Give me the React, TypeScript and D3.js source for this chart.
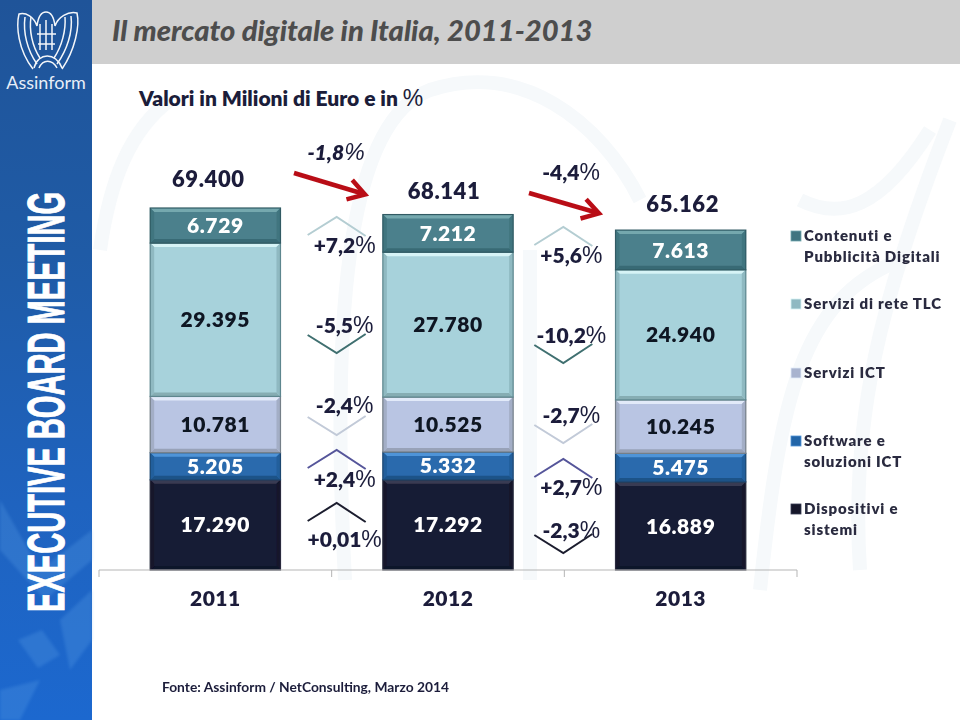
import React from "react";
import * as d3 from "d3";

const years = ["2011", "2012", "2013"];
const dispositivi = [17290, 17292, 16889];
const software = [5205, 5332, 5475];
const serviziICT = [10781, 10525, 10245];
const serviziTLC = [29395, 27780, 24940];
const contenuti = [6729, 7212, 7613];
const totals = [69400, 68141, 65162];
const totalChange = ["-1,8", "-4,4"];
const changes = [
  ["+0,01", "+2,4", "-2,4", "-5,5", "+7,2"],
  ["-2,3", "+2,7", "-2,7", "-10,2", "+5,6"],
];
const fmt = (v: number) => d3.format(",")(v).replace(",", ".");

const W = 960, H = 720;
const NAVY = "#1b1d3a";
const FONT = "Lato, 'Open Sans', sans-serif";
const PCT = "'Liberation Sans', sans-serif";

const styles = [
  { base: "#191d35", top: "#383b52", bottom: "#10132a", side: "#12152c", edge: "#2a2c3c", text: "#ffffff", marker: "#15182c", chev: "#1b1d2e" },
  { base: "#2a6bad", top: "#4f94d8", bottom: "#1f5288", side: "#235f9c", edge: "#1d4670", text: "#ffffff", marker: "#2465a8", chev: "#55559a" },
  { base: "#b9c5e3", top: "#e2eaf9", bottom: "#98a2b8", side: "#a3aec6", edge: "#757f88", text: "#111522", marker: "#a9b4cf", chev: "#c2cad8" },
  { base: "#a7d2db", top: "#d6f3f6", bottom: "#86adb3", side: "#8fb9c1", edge: "#5d868e", text: "#111522", marker: "#8fb9c2", chev: "#3f6f70" },
  { base: "#4b808c", top: "#74a8ae", bottom: "#386a75", side: "#41757f", edge: "#305a64", text: "#ffffff", marker: "#3f7480", chev: "#b4cdd2" },
];
const layers = [dispositivi, software, serviziICT, serviziTLC, contenuti];

const x = d3.scaleBand<string>().domain(years).range([99, 797]).paddingInner(0.44).paddingOuter(0.22);
const y = d3.scaleLinear().domain([0, 69400]).range([570, 208]);
const stacked = d3.stack<number>().keys(d3.range(5).map(String)).value((i, k) => layers[+k][i])(d3.range(3));

function Bevel({ x0, y0, w, h, s }: any) {
  const b = 4;
  const x1 = x0 + w, y1 = y0 + h;
  const p = (pts: number[][]) => pts.map((q) => q.join(",")).join(" ");
  return (
    <g>
      <rect x={x0} y={y0} width={w} height={h} fill={s.base} />
      <polygon points={p([[x0, y0], [x1, y0], [x1 - b, y0 + b], [x0 + b, y0 + b]])} fill={s.top} />
      <polygon points={p([[x0, y1], [x1, y1], [x1 - b, y1 - b], [x0 + b, y1 - b]])} fill={s.bottom} />
      <polygon points={p([[x0, y0], [x0 + b, y0 + b], [x0 + b, y1 - b], [x0, y1]])} fill={s.side} />
      <polygon points={p([[x1, y0], [x1 - b, y0 + b], [x1 - b, y1 - b], [x1, y1]])} fill={s.side} />
      <rect x={x0} y={y0} width={w} height={h} fill="none" stroke={s.edge} strokeWidth={1.2} />
    </g>
  );
}

function Pct({ x: px, y: py, label, italic }: any) {
  return (
    <text x={px} y={py} textAnchor="middle" fontFamily={FONT} fontWeight={800} fontSize={21} fill={NAVY} fontStyle={italic ? "italic" : "normal"}>
      {label}
      <tspan fontWeight={400} fontFamily={PCT} fontSize={23}>%</tspan>
    </text>
  );
}

// y of the arm ends of each change chevron and baseline of its label, per gap between bars
const chevEnds = [[521, 468, 417, 335, 235], [535, 477, 425, 345, 245]];
const labelBase = [[547, 487, 413, 333, 253], [538, 495, 423, 343, 263]];

const legendRows = [
  { i: 4, lines: ["Contenuti e", "Pubblicità Digitali"], y: 241 },
  { i: 3, lines: ["Servizi di rete TLC"], y: 309 },
  { i: 2, lines: ["Servizi ICT"], y: 378 },
  { i: 1, lines: ["Software e", "soluzioni ICT"], y: 446 },
  { i: 0, lines: ["Dispositivi e", "sistemi"], y: 514 },
];

const line = d3.line();

function Arrow({ x0, y0, x1, y1 }: any) {
  const a = Math.atan2(y1 - y0, x1 - x0);
  const l = 21;
  const h1: [number, number] = [x1 - l * Math.cos(a - 0.5), y1 - l * Math.sin(a - 0.5)];
  const h2: [number, number] = [x1 - l * Math.cos(a + 0.5), y1 - l * Math.sin(a + 0.5)];
  return (
    <g stroke="#b90f15" strokeWidth={4.5} fill="none" strokeLinecap="butt" strokeLinejoin="miter">
      <path d={line([[x0, y0], [x1 - 3, y1 - 1]])!} />
      <path d={line([h1, [x1 - 2, y1 - 0.6], h2])!} />
    </g>
  );
}

const barCenter = (i: number) => x(years[i])! + x.bandwidth() / 2;

export default function App() {
  return (
    <svg width={W} height={H} viewBox={`0 0 ${W} ${H}`} style={{ position: "absolute", left: 0, top: 0, background: "#fff" }}>
      <defs>
        <linearGradient id="side" x1="0" y1="0" x2="0" y2="1">
          <stop offset="0" stopColor="#1f5499" />
          <stop offset="0.35" stopColor="#1f5ba6" />
          <stop offset="0.7" stopColor="#1f63bf" />
          <stop offset="1" stopColor="#1c68cf" />
        </linearGradient>
        <filter id="soft"><feGaussianBlur stdDeviation="0.35" /></filter>
        <filter id="softer"><feGaussianBlur stdDeviation="1.5" /></filter>
      </defs>

      {/* watermark */}
      <g fill="none" stroke="#f6f9fb" strokeWidth={14}>
        <path d="M345 580 C 330 300 350 120 430 90 C 520 60 600 120 640 200" />
        <path d="M530 580 L 530 250" />
        <path d="M760 590 C 780 400 800 300 900 260" />
        <path d="M860 570 C 850 420 880 300 950 120" />
        <path d="M100 250 C 110 180 130 130 170 100" />
        <path d="M800 200 C 840 220 880 210 930 130" />
      </g>

      {/* sidebar */}
      <rect x={0} y={0} width={92} height={H} fill="url(#side)" />
      <g fill="#5a9fe6" opacity={0.28} filter="url(#softer)">
        <polygon points="0,500 40,570 92,530 92,560 45,600 0,550" />
        <polygon points="18,640 42,630 60,655 38,668" />
        <polygon points="60,620 92,590 92,640 70,670" />
        <polygon points="0,690 40,680 20,720 0,720" />
      </g>
      <g fill="none" stroke="#fff" strokeWidth={1.5} opacity={0.95}>
        <path d="M46 12 C 41 12 38 18 37 26 C 34 17 26 12 19 14 C 16 26 18 50 33 69" />
        <path d="M46 12 C 51 12 54 18 55 26 C 58 17 68 11 77 13 C 80 26 75 50 62 69" />
        <path d="M25 17 C 23 32 27 50 37 64 M31 17 C 29 30 32 46 40 58 M71 16 C 73 32 67 50 57 64 M65 17 C 66 30 62 46 54 58" />
        <path d="M40 24 L 40 50 M46 20 L 46 50 M52 24 L 52 50 M37 34 L 56 34 M38 44 L 55 44" />
        <path d="M34 68 C 38 52 56 52 62 68 M39 68 C 43 59 52 59 57 68" />
      </g>
      <text x={46} y={89} textAnchor="middle" fontFamily={FONT} fontSize={18} fill="#e8eef8">Assinform</text>
      <text transform="translate(64,612) rotate(-90) scale(1,1.95)" textLength={420} lengthAdjust="spacingAndGlyphs"
        fontFamily={PCT} fontWeight={700} fontSize={27} fill="#fff" stroke="#fff" strokeWidth={0.5}>EXECUTIVE BOARD MEETING</text>

      {/* header */}
      <rect x={92} y={0} width={W - 92} height={64} fill="#cfcfcf" />
      <text x={112} y={41} fontFamily={FONT} fontWeight={900} fontStyle="italic" fontSize={29.2} fill="#4d4d4d">Il mercato digitale in Italia, 2011-2013</text>
      <text x={139} y={106} fontFamily={FONT} fontWeight={800} fontSize={21} fill={NAVY}>
        Valori in Milioni di Euro e in <tspan fontWeight={400} fontFamily={PCT} fontSize={23}>%</tspan>
      </text>

      <g filter="url(#soft)">
        {/* bars */}
        {stacked.map((layer, li) =>
          layer.map((d, i) => (
            <g key={`${li}-${i}`}>
              <Bevel x0={x(years[i])!} y0={y(d[1])} w={x.bandwidth()} h={y(d[0]) - y(d[1])} s={styles[li]} />
              <text x={barCenter(i)} y={(y(d[0]) + y(d[1])) / 2} dy="0.36em" textAnchor="middle"
                fontFamily={FONT} fontWeight={800} fontSize={21} letterSpacing={0.6} fill={styles[li].text}>
                {fmt(layers[li][i])}
              </text>
            </g>
          ))
        )}

        {/* axis */}
        <line x1={99} x2={797} y1={570} y2={570} stroke="#b5b5b5" />
        {d3.range(4).map((k) => {
          const tx = 99 + k * x.step();
          return <line key={k} x1={tx} x2={tx} y1={570} y2={577} stroke="#b5b5b5" />;
        })}
        {years.map((yr, i) => (
          <text key={yr} x={barCenter(i)} y={606} textAnchor="middle" fontFamily={FONT} fontWeight={800} fontSize={21} letterSpacing={0.5} fill={NAVY}>{yr}</text>
        ))}

        {/* totals */}
        {totals.map((t, i) => (
          <text key={t} x={barCenter(i) + [-7, -4, 2][i]} y={[187, 199, 212][i]} textAnchor="middle" fontFamily={FONT} fontWeight={800} fontSize={22} letterSpacing={0.6} fill={NAVY}>{fmt(t)}</text>
        ))}

        {/* change chevrons */}
        {changes.map((row, g) => {
          const cx = 99 + (g + 1) * x.step() + (g === 0 ? 5 : -1);
          return row.map((lab, li) => {
            const up = lab.startsWith("+");
            const e = chevEnds[g][li];
            const pts: [number, number][] = [[cx - 29, e], [cx, e + (up ? -18 : 18)], [cx + 29, e + (up ? 1 : -1)]];
            return (
              <g key={`${g}-${li}`}>
                <path d={line(pts)!} fill="none" stroke={styles[li].chev} strokeWidth={2} />
                <Pct x={cx + 8} y={labelBase[g][li]} label={lab} />
              </g>
            );
          });
        })}

        {/* total change */}
        <Pct x={336} y={160} label={totalChange[0]} italic />
        <Pct x={571} y={180} label={totalChange[1]} />
        <Arrow x0={294} y0={173} x1={367} y1={195} />
        <Arrow x0={529} y0={193} x1={601} y1={214} />

        {/* legend */}
        {legendRows.map((r) => (
          <g key={r.i}>
            <rect x={791} y={r.y - 10} width={10} height={10} fill={styles[r.i].marker} stroke={styles[r.i].top} strokeWidth={0.8} />
            {r.lines.map((t, k) => (
              <text key={t} x={804} y={r.y + k * 20.5} fontFamily={FONT} fontWeight={800} fontSize={15} letterSpacing={0.85} fill="#2a2c3f">{t}</text>
            ))}
          </g>
        ))}

        <text x={162} y={692} fontFamily={FONT} fontWeight={700} fontSize={13.8} fill={NAVY}>Fonte: Assinform / NetConsulting, Marzo 2014</text>
      </g>
    </svg>
  );
}
